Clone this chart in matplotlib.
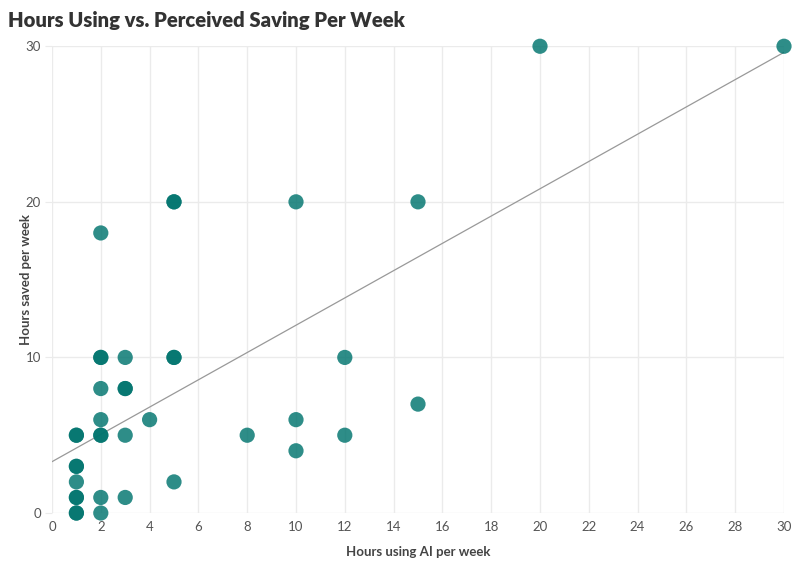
import numpy as np
import matplotlib.pyplot as plt

# hours using AI per week vs hours saved per week (duplicates show as darker dots)
hours_using = [1, 1, 2, 1, 1, 2, 3, 1, 5, 1, 1, 1, 1, 2, 2, 3, 8, 12, 10,
               2, 4, 10, 15, 2, 3, 3, 2, 2, 3, 5, 5, 12, 2, 5, 5, 10, 15, 20, 30]
hours_saved = [0, 0, 0, 1, 1, 1, 1, 2, 2, 3, 3, 5, 5, 5, 5, 5, 5, 5, 4,
               6, 6, 6, 7, 8, 8, 8, 10, 10, 10, 10, 10, 10, 18, 20, 20, 20, 20, 30, 30]

# trend line
trend_intercept = 3.3
trend_slope = 0.877

x_ticks = list(range(0, 31, 2))
y_ticks = [0, 10, 20, 30]

plt.rcParams['font.family'] = ['Lato', 'DejaVu Sans']

fig = plt.figure(figsize=(8, 5.64), dpi=100)
ax = fig.add_axes([0.065, 0.0904, 0.915, 0.8276])

line_x = np.array([0, 30])
ax.plot(line_x, trend_intercept + trend_slope * line_x, color='#999999', linewidth=0.9, zorder=2)
ax.scatter(hours_using, hours_saved, s=120, color='#00746E', alpha=0.82, edgecolors='none',
           zorder=3, clip_on=False)

ax.set_xlim(0, 30)
ax.set_ylim(0, 30)
ax.set_xticks(x_ticks)
ax.set_yticks(y_ticks)
ax.grid(True, color='#ebebeb', linewidth=1)
ax.set_axisbelow(True)
for s in ax.spines.values():
    s.set_visible(False)
ax.tick_params(axis='x', length=0, pad=6, labelsize=9.5, labelcolor='#555555')
ax.tick_params(axis='y', length=5, color='#ebebeb', pad=3, labelsize=9.5, labelcolor='#555555')

ax.set_xlabel('Hours using AI per week', fontsize=9.5, fontweight='bold', color='#444444', labelpad=9)
ax.set_ylabel('Hours saved per week', fontsize=9.5, fontweight='bold', color='#444444', labelpad=-5)

fig.text(0.01, 0.964, 'Hours Using vs. Perceived Saving Per Week', fontsize=14.6,
         fontweight='heavy', color='#333333', va='center')

fig.savefig('out.png', dpi=100)
